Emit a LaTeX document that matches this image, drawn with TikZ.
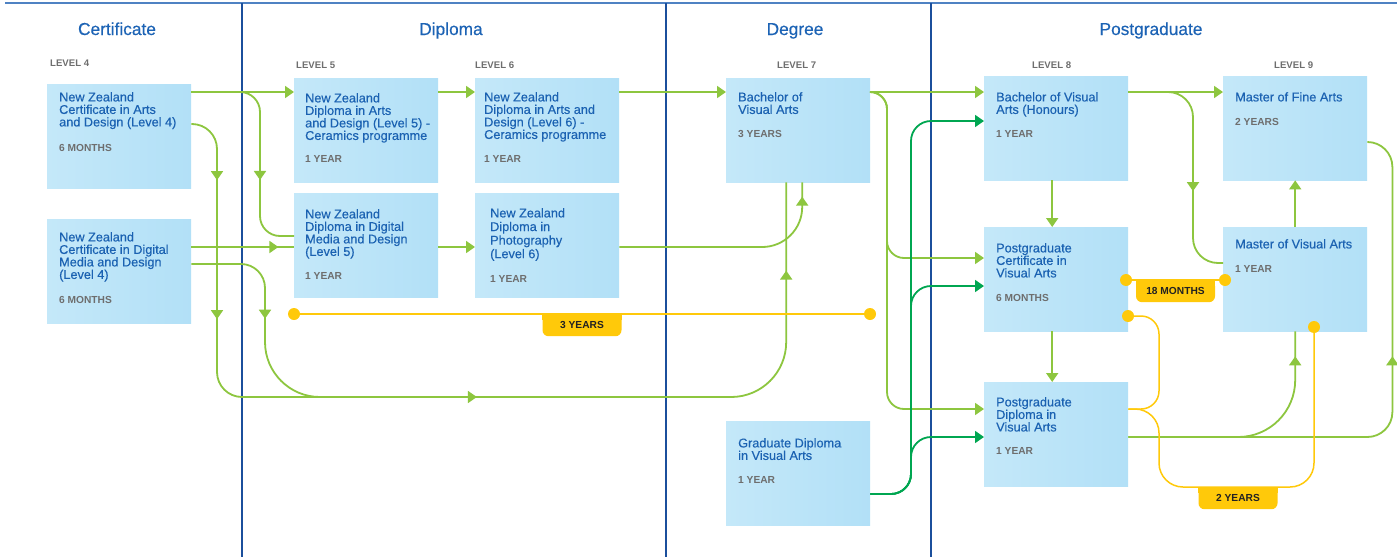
\documentclass[tikz,border=0pt]{standalone}
\usepackage{fontspec}
\setmainfont{Liberation Sans}
\newfontfamily\medfont{Liberation Sans}[FakeBold=0.35]
\usetikzlibrary{arrows.meta,positioning,decorations.markings}
\definecolor{boxleft}{HTML}{C4E8F9}
\definecolor{boxright}{HTML}{B2E0F7}
\definecolor{titleblue}{HTML}{1B62B2}
\definecolor{headblue}{HTML}{1C63B5}
\definecolor{durgray}{HTML}{6E6E6E}
\definecolor{rulenavy}{HTML}{1B4F9C}
\definecolor{ruleblue}{HTML}{4F82C3}
\definecolor{pathgreen}{HTML}{8DC63F}
\definecolor{gradgreen}{HTML}{00A651}
\definecolor{spangold}{HTML}{FFC90A}
\definecolor{spantext}{HTML}{222222}

\tikzset{
  course/.style={anchor=north west, minimum width=144pt, minimum height=104pt, left color=boxleft, right color=boxright},
  ctitle/.style={align=left, text=titleblue, font=\medfont\fontsize{12.7}{12.5}\selectfont},
  cdur/.style={text=durgray, font=\fontsize{10.2}{12}\selectfont\bfseries},
  level/.style={anchor=north west, text=durgray, font=\fontsize{9.6}{12}\selectfont\bfseries},
  colhead/.style={anchor=base, text=headblue, font=\medfont\fontsize{17.3}{20}\selectfont},
  pipe/.style={draw=pathgreen, line width=1.8pt},
  link/.style={pipe, -{Triangle[length=9pt,width=12pt]}},
  gradlink/.style={link, draw=gradgreen},
  arrowat/.style={postaction={decorate, decoration={markings, mark=at position #1 with {\arrow{Triangle[length=9pt,width=12pt]}}}}},
  span/.style={draw=spangold, line width=1.5pt},
  spandot/.style={circle, fill=spangold, minimum size=12pt},
  spanbadge/.style={anchor=north, fill=spangold, rounded corners=6pt, minimum width=79pt, minimum height=22pt, text=spantext, font=\fontsize{10.2}{12}\selectfont\bfseries},
}

\begin{document}
\begin{tikzpicture}[x=1pt, y=-1pt, every node/.style={inner sep=0pt}]
  \useasboundingbox[fill=white] (0,0) rectangle (1397,557);

  % frame rules
  \draw[ruleblue, line width=1.8pt] (5,3) -- (1397,3);
  \draw[rulenavy, line width=1.4pt] (242,3) -- (242,557);
  \draw[rulenavy, line width=1.4pt] (666,3) -- (666,557);
  \draw[rulenavy, line width=1.4pt] (931,3) -- (931,557);

  % column heads and levels
  \node[colhead] (hcert) at (117,35) {Certificate};
  \node[colhead] (hdip) at (451,35) {Diploma};
  \node[colhead] (hdeg) at (795,35) {Degree};
  \node[colhead] (hpg) at (1151,35) {Postgraduate};
  \node[level] (lv4) at (50,60) {LEVEL 4};
  \node[level] (lv5) at (296,62) {LEVEL 5};
  \node[level] (lv6) at (475,62) {LEVEL 6};
  \node[level] (lv7) at (777,62) {LEVEL 7};
  \node[level] (lv8) at (1032,62) {LEVEL 8};
  \node[level] (lv9) at (1274,62) {LEVEL 9};

  % courses
  \node[course] (cad4) at (47,84) {};
  \node[ctitle, below right=8pt and 12pt of cad4.north west] (cad4t) {New Zealand\\Certificate in Arts\\and Design (Level 4)};
  \node[cdur, below right=60pt and 12pt of cad4.north west] (cad4d) {6 MONTHS};

  \node[course] (cdm4) at (47,219) {};
  \node[ctitle, below right=13pt and 12pt of cdm4.north west] (cdm4t) {New Zealand\\Certificate in Digital\\Media and Design\\(Level 4)};
  \node[cdur, below right=77pt and 12pt of cdm4.north west] (cdm4d) {6 MONTHS};

  \node[course] (dad5) at (294,78) {};
  \node[ctitle, below right=15pt and 11pt of dad5.north west] (dad5t) {New Zealand\\Diploma in Arts\\and Design (Level 5) -\\Ceramics programme};
  \node[cdur, below right=77pt and 11pt of dad5.north west] (dad5d) {1 YEAR};

  \node[course] (ddm5) at (294,193) {};
  \node[ctitle, below right=16pt and 11pt of ddm5.north west] (ddm5t) {New Zealand\\Diploma in Digital\\Media and Design\\(Level 5)};
  \node[cdur, below right=79pt and 11pt of ddm5.north west] (ddm5d) {1 YEAR};

  \node[course] (dad6) at (475,78) {};
  \node[ctitle, below right=14pt and 9pt of dad6.north west] (dad6t) {New Zealand\\Diploma in Arts and\\Design (Level 6) -\\Ceramics programme};
  \node[cdur, below right=77pt and 9pt of dad6.north west] (dad6d) {1 YEAR};

  \node[course] (dph6) at (475,193) {};
  \node[ctitle, font=\medfont\fontsize{12.7}{13.6}\selectfont, below right=15pt and 15pt of dph6.north west] (dph6t) {New Zealand\\Diploma in\\Photography\\(Level 6)};
  \node[cdur, below right=82pt and 15pt of dph6.north west] (dph6d) {1 YEAR};

  \node[course] (bva) at (726,78) {};
  \node[ctitle, below right=14pt and 12pt of bva.north west] (bvat) {Bachelor of\\Visual Arts};
  \node[cdur, below right=52pt and 12pt of bva.north west] (bvad) {3 YEARS};

  \node[course] (gdva) at (726,421) {};
  \node[ctitle, below right=17pt and 12pt of gdva.north west] (gdvat) {Graduate Diploma\\in Visual Arts};
  \node[cdur, below right=55pt and 12pt of gdva.north west] (gdvad) {1 YEAR};

  \node[course] (bvah) at (984,76) {};
  \node[ctitle, below right=16pt and 12pt of bvah.north west] (bvaht) {Bachelor of Visual\\Arts (Honours)};
  \node[cdur, below right=54pt and 12pt of bvah.north west] (bvahd) {1 YEAR};

  \node[course] (pgcva) at (984,227) {};
  \node[ctitle, below right=16pt and 12pt of pgcva.north west] (pgcvat) {Postgraduate\\Certificate in\\Visual Arts};
  \node[cdur, below right=67pt and 12pt of pgcva.north west] (pgcvad) {6 MONTHS};

  \node[course] (pgdva) at (984,382) {};
  \node[ctitle, below right=15pt and 12pt of pgdva.north west] (pgdvat) {Postgraduate\\Diploma in\\Visual Arts};
  \node[cdur, below right=65pt and 12pt of pgdva.north west] (pgdvad) {1 YEAR};

  \node[course] (mfa) at (1223,76) {};
  \node[ctitle, below right=16pt and 12pt of mfa.north west] (mfat) {Master of Fine Arts};
  \node[cdur, below right=42pt and 12pt of mfa.north west] (mfad) {2 YEARS};

  \node[course] (mva) at (1223,227) {};
  \node[ctitle, below right=12pt and 12pt of mva.north west] (mvat) {Master of Visual Arts};
  \node[cdur, below right=38pt and 12pt of mva.north west] (mvad) {1 YEAR};

  % pathways, certificate and diploma
  \coordinate (pathway) at (500,397);
  \draw[link] ([yshift=-8pt]cad4.north east) -- ([yshift=-14pt]dad5.north west);
  \draw[pipe, rounded corners=20pt, arrowat=148pt] ([yshift=-8pt]cad4.north east) -| ([xshift=-34pt,yshift=-43pt]ddm5.north west) -- ([yshift=-43pt]ddm5.north west);
  \draw[pipe, rounded corners=25pt, arrowat=71pt, arrowat=210pt, arrowat=537pt] ([yshift=-40pt]cad4.north east) -| (217,397) -- (pathway);
  \draw[pipe, arrowat=87pt] ([yshift=-28pt]cdm4.north east) -- ([yshift=-54pt]ddm5.north west);
  \draw[pipe, rounded corners=24pt, arrowat=118pt] ([yshift=-45pt]cdm4.north east) -- (265,264) [rounded corners=55pt] -- (265,397) -- (pathway);
  \draw[pipe, rounded corners=55pt, arrowat=389pt] (pathway) -| ([xshift=-12pt]bva.south);
  \draw[link] ([yshift=-14pt]dad5.north east) -- ([yshift=-14pt]dad6.north west);
  \draw[link] ([yshift=-54pt]ddm5.north east) -- ([yshift=-54pt]dph6.north west);
  \draw[link] ([yshift=-14pt]dad6.north east) -- ([yshift=-14pt]bva.north west);
  \draw[pipe, rounded corners=40pt, arrowat=216pt] ([yshift=-54pt]dph6.north east) -| ([xshift=4pt]bva.south);

  % pathways, degree
  \draw[link] ([yshift=-14pt]bva.north east) -- ([yshift=-16pt]bvah.north west);
  \draw[link, rounded corners=17pt] ([yshift=-14pt]bva.north east) -| ([xshift=-97pt,yshift=-31pt]pgcva.north west) -- ([yshift=-31pt]pgcva.north west);
  \draw[link, rounded corners=17pt] ([yshift=-14pt]bva.north east) -| ([xshift=-97pt,yshift=-27pt]pgdva.north west) -- ([yshift=-27pt]pgdva.north west);
  \draw[gradlink, rounded corners=20pt] ([yshift=-73pt]gdva.north east) -| ([xshift=-73pt,yshift=-45pt]bvah.north west) -- ([yshift=-45pt]bvah.north west);
  \draw[gradlink, rounded corners=20pt] ([yshift=-73pt]gdva.north east) -| ([xshift=-73pt,yshift=-59pt]pgcva.north west) -- ([yshift=-59pt]pgcva.north west);
  \draw[gradlink, rounded corners=20pt] ([yshift=-73pt]gdva.north east) -| ([xshift=-73pt,yshift=-55pt]pgdva.north west) -- ([yshift=-55pt]pgdva.north west);

  % pathways, postgraduate
  \draw[link] ([yshift=-16pt]bvah.north east) -- ([yshift=-16pt]mfa.north west);
  \draw[pipe, rounded corners=25pt, arrowat=153pt] ([yshift=-16pt]bvah.north east) -| ([xshift=-30pt,yshift=-36pt]mva.north west) -- ([yshift=-36pt]mva.north west);
  \draw[link] ([xshift=-4pt]bvah.south) -- ([xshift=-4pt]pgcva.north);
  \draw[link] ([xshift=-4pt]pgcva.south) -- ([xshift=-4pt]pgdva.north);
  \draw[link] (mva.north) -- (mfa.south);
  \draw[pipe, rounded corners=57pt, arrowat=223pt] ([yshift=-55pt]pgdva.north east) -| (mva.south);
  \draw[pipe, rounded corners=25pt, arrowat=334pt] ([yshift=-55pt]pgdva.north east) -| ([xshift=25pt,yshift=-66pt]mfa.north east) -- ([yshift=-66pt]mfa.north east);

  % time spans
  \node[spandot] (d3a) at (294,314) {};
  \node[spandot] (d3b) at (870,314) {};
  \draw[span] (d3a) -- (d3b);
  \node[spanbadge] (s3y) at (582,314) {3 YEARS};
  \fill[spangold] (s3y.north west) rectangle ([yshift=-6pt]s3y.north east);

  \node[spandot] (d18a) at (1126,280) {};
  \node[spandot] (d18b) at (1225,280) {};
  \draw[span] (d18a) -- (d18b);
  \node[spanbadge] (s18m) at (1175.5,280) {18 MONTHS};
  \fill[spangold] (s18m.north west) rectangle ([yshift=-6pt]s18m.north east);

  \node[spandot] (d2a) at (1128,316) {};
  \node[spandot] (d2b) at (1314,327) {};
  \draw[span, rounded corners=18pt] (d2a) -| (1159,409) -- ([yshift=-27pt]pgdva.north east);
  \draw[span, rounded corners=24pt] ([yshift=-27pt]pgdva.north east) -| (1159,487) -| (d2b);
  \node[spanbadge] (s2y) at (1238,487) {2 YEARS};
  \fill[spangold] (s2y.north west) rectangle ([yshift=-6pt]s2y.north east);
\end{tikzpicture}
\end{document}
